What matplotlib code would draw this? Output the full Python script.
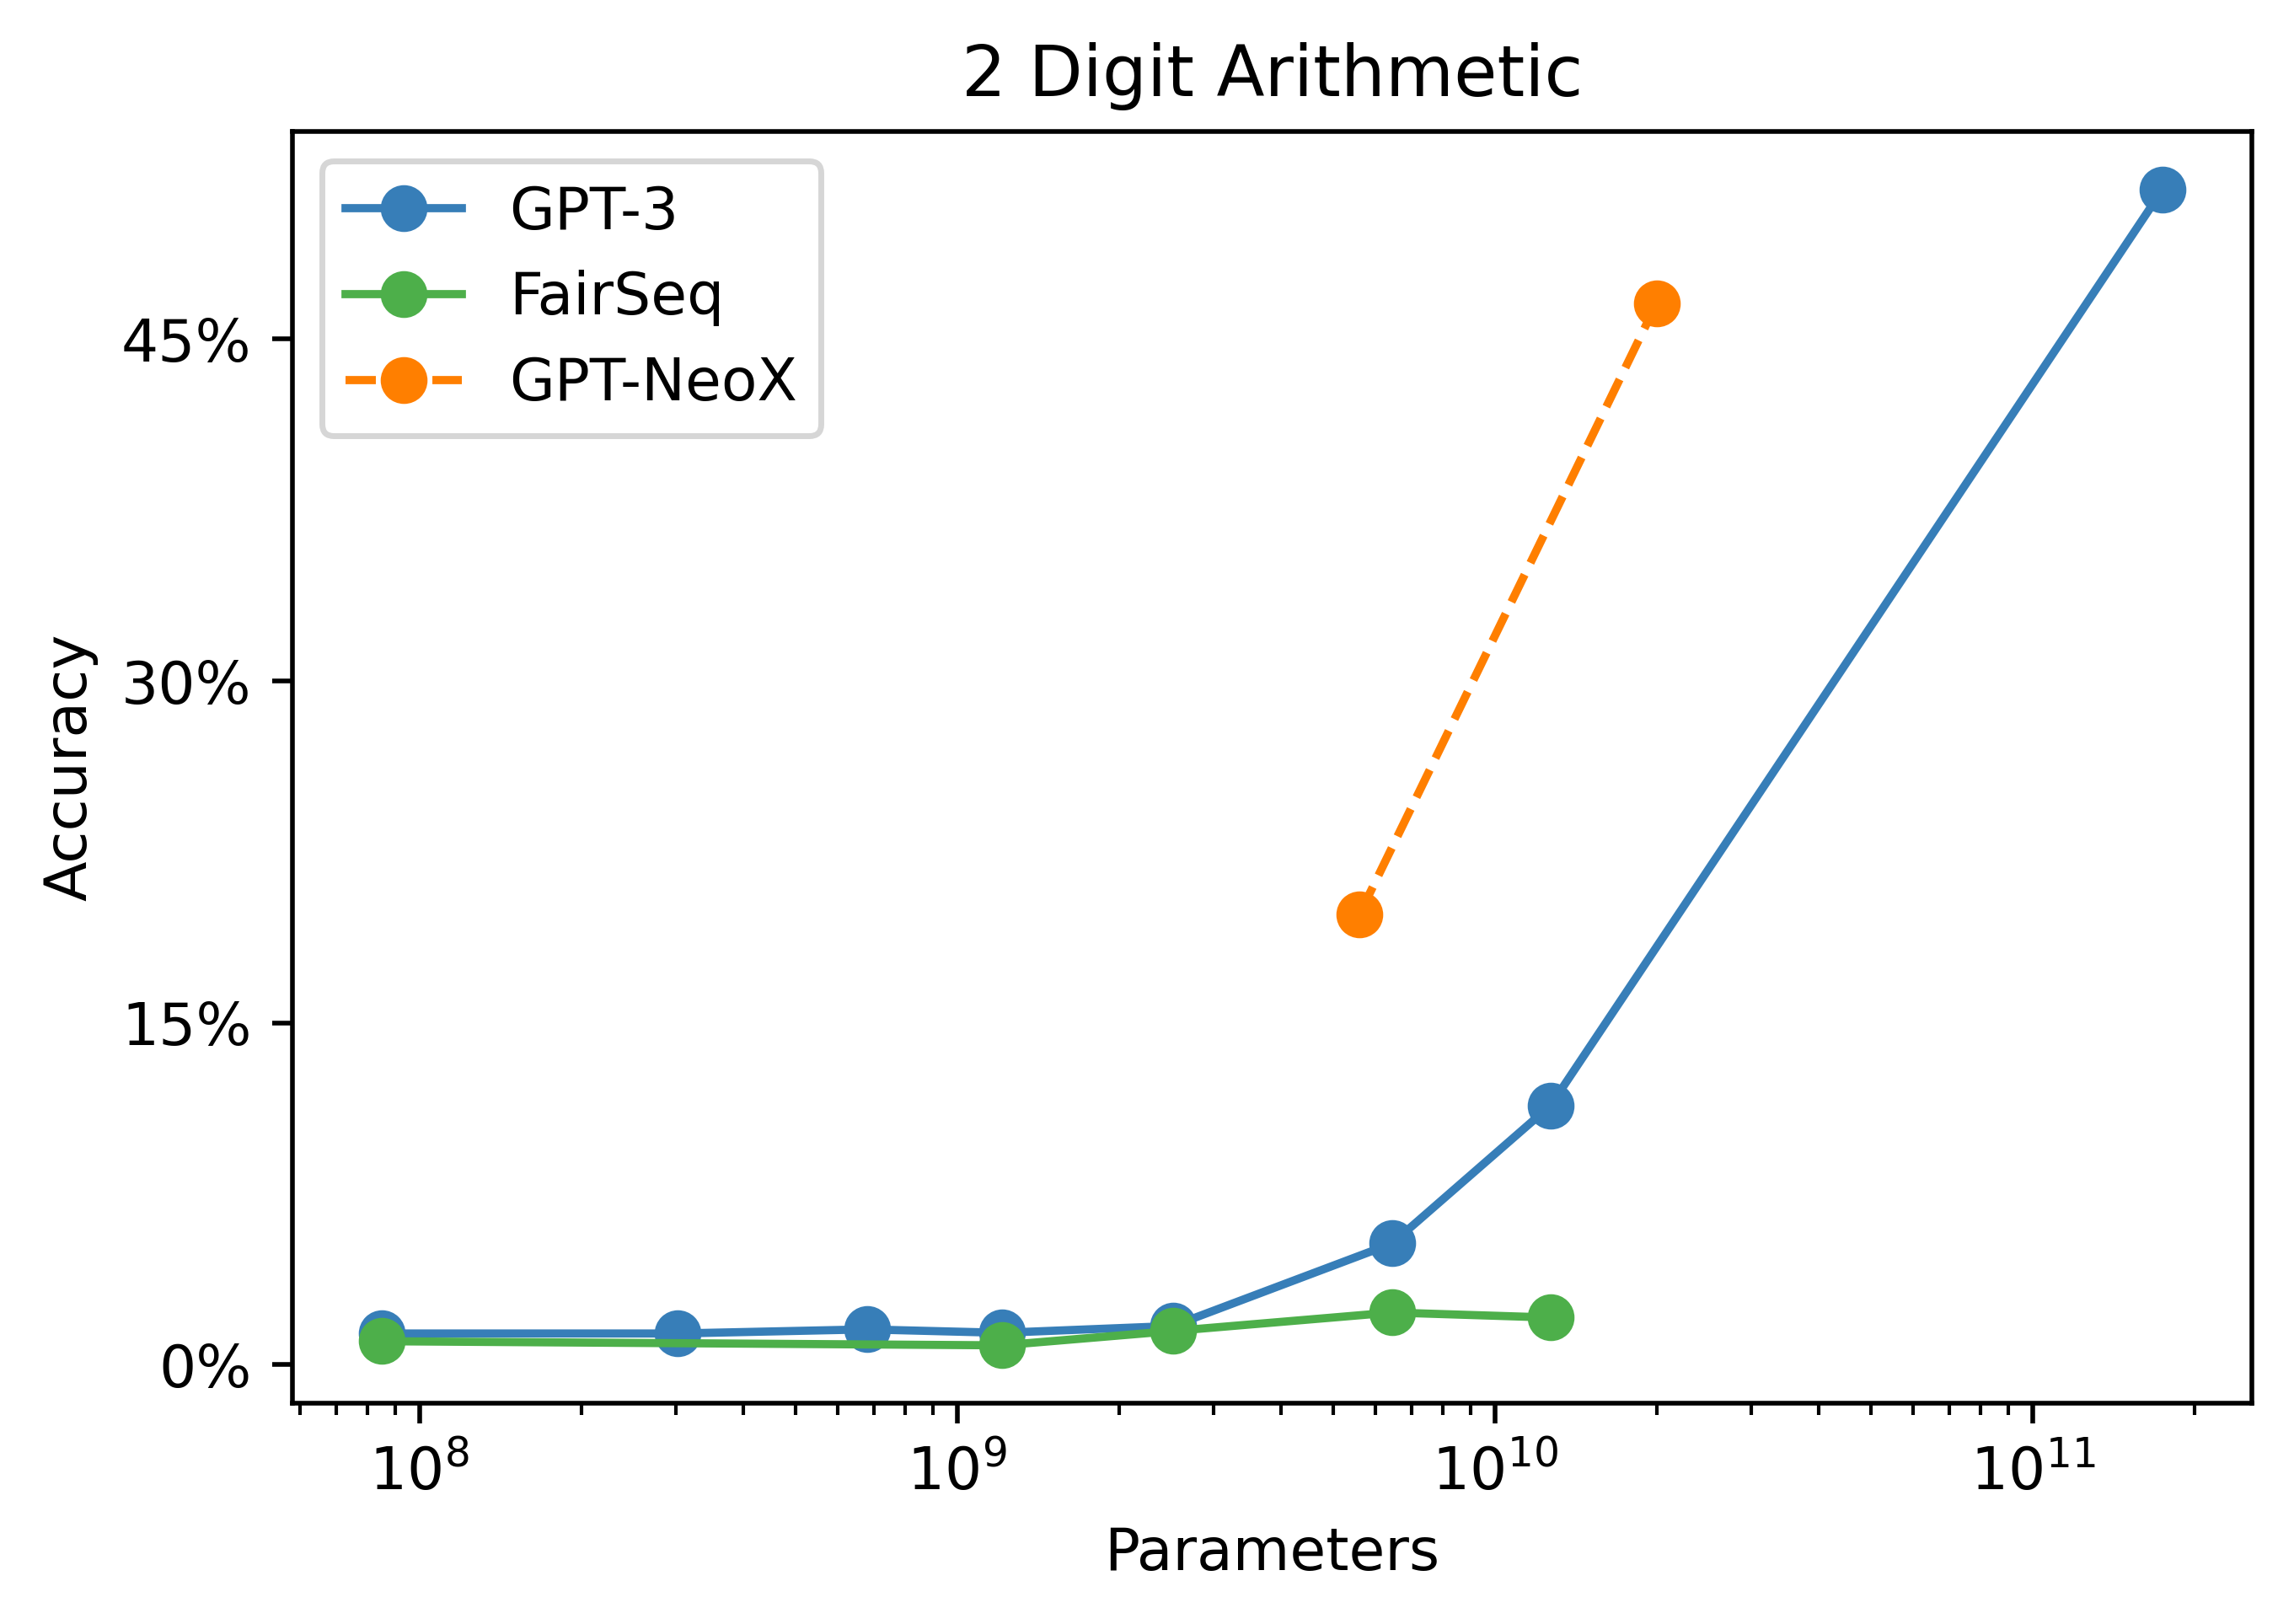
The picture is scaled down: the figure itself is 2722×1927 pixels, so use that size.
import matplotlib
matplotlib.use("Agg")
import matplotlib.pyplot as plt
from matplotlib.ticker import PercentFormatter

# model sizes (non-embedding parameters) and 2 digit arithmetic accuracy in %
gpt3_params = [85e6, 302e6, 679e6, 1.21e9, 2.52e9, 6.44e9, 12.7e9, 174.6e9]
gpt3_acc = [1.37, 1.37, 1.55, 1.40, 1.70, 5.32, 11.38, 51.57]

fairseq_params = [85e6, 1.21e9, 2.52e9, 6.44e9, 12.7e9]
fairseq_acc = [1.03, 0.85, 1.48, 2.29, 2.07]

neox_params = [5.6e9, 20e9]
neox_acc = [19.76, 46.58]

y_ticks = [0, 15, 30, 45]

BLUE = "#377eb8"
GREEN = "#4daf4a"
ORANGE = "#ff7f00"

fig = plt.figure(figsize=(2722 / 500, 1927 / 500), dpi=500)
fig.subplots_adjust(left=0.1275, right=0.9816, top=0.919, bottom=0.136)
ax = fig.add_subplot(111)

ax.plot(gpt3_params, gpt3_acc, "-o", color=BLUE, lw=1.4, ms=7, label="GPT-3")
ax.plot(fairseq_params, fairseq_acc, "-o", color=GREEN, lw=1.4, ms=7, label="FairSeq")
ax.plot(neox_params, neox_acc, "--o", color=ORANGE, lw=1.4, ms=7, label="GPT-NeoX")

ax.set_xscale("log")
ax.set_yticks(y_ticks)
ax.yaxis.set_major_formatter(PercentFormatter(xmax=100, decimals=0))

ax.set_title("2 Digit Arithmetic")
ax.set_xlabel("Parameters")
ax.set_ylabel("Accuracy")
ax.legend(loc="upper left")

fig.savefig("out.png", dpi=500)
